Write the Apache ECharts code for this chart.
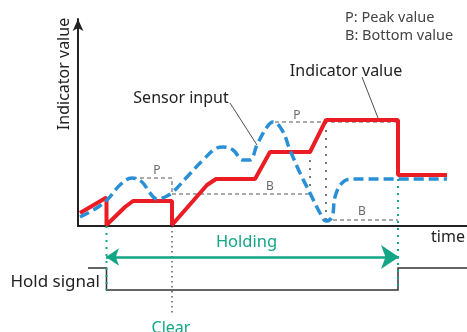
<!DOCTYPE html>
<html>
<head>
<meta charset="utf-8">
<script src="https://cdn.jsdelivr.net/npm/echarts@6/dist/echarts.min.js"></script>
<style>
html, body { margin: 0; padding: 0; background: #fff; }
#chart { width: 467px; height: 332px; }
</style>
</head>
<body>
<div id="chart"></div>
<script>
// x = time, y = indicator value (arbitrary units, axis origin at 0,0)
var sensorInput = [
    [2, 9], [17, 17], [29, 26], [42, 41], [54, 48], [64, 44], [72, 33], [79, 27],
    [87, 29], [95, 34], [109, 49], [125, 66], [139, 78], [145, 79], [155, 76],
    [165, 66], [172, 66], [179, 81], [189, 99], [195, 104], [204, 96], [212, 76],
    [222, 53], [232, 33], [242, 13], [248, 5], [254, 9], [257, 29], [264, 43],
    [274, 47], [369, 47]
];
var indicatorValue = [
    [2, 13], [28.5, 28.5], [28.5, 1], [47, 19], [55, 25], [94, 25], [94, 1],
    [129, 41], [138, 47], [177, 47], [192, 74], [232, 74], [248, 106],
    [320, 106], [320, 51], [369, 51]
];
// peak / bottom guide lines
var peakBottomGuides = [
    [[55, 48], [94, 48], [94, 32]],
    [[94, 32], [232, 32]],
    [[197, 104], [320, 104]],
    [[248, 6], [320, 6]]
];
var holdMoments = [[[232, 74], [232, 32]], [[248, 104], [248, 6]]];
var guideLetters = [
    { name: 'P', value: [79, 55] },
    { name: 'P', value: [219, 110] },
    { name: 'B', value: [192, 39] },
    { name: 'B', value: [284, 14] }
];
// below the time axis
var holdSignal = [[10, -42], [28.5, -42], [28.5, -64], [320, -64], [320, -42], [389, -42]];
var holdEdges = [[[28.5, 0], [28.5, -64]], [[320, 47], [320, -64]]];
var clearMoment = [[94, 0], [94, -89]];
var holdingSpan = [[28, -31], [321, -31]];
var leaders = [[[152, 123], [179, 81]], [[284, 149], [300, 108]]];

var teal = '#12a586';
var font = 'Noto Sans';

function toLines(list) {
    return list.map(function (c) { return { coords: c }; });
}

var chart = echarts.init(document.getElementById('chart'));

option = {
    animation: false,
    grid: { left: 78, right: 0, top: 19, bottom: 106 },
    xAxis: {
        type: 'value',
        min: 0,
        max: 389,
        axisLine: { onZero: false, lineStyle: { color: '#222', width: 2 } },
        axisTick: { show: false },
        axisLabel: { show: false },
        splitLine: { show: false }
    },
    yAxis: {
        type: 'value',
        min: 0,
        max: 207,
        axisLine: {
            show: true,
            symbol: ['none', 'arrow'],
            symbolSize: [8, 12],
            lineStyle: { color: '#222', width: 2 }
        },
        axisTick: { show: false },
        axisLabel: { show: false },
        splitLine: { show: false }
    },
    graphic: [
        { type: 'text', x: 64, y: 74, rotation: Math.PI / 2,
          style: { text: 'Indicator value', font: '16px ' + font, fill: '#222', align: 'center', verticalAlign: 'middle' } },
        { type: 'text', x: 181, y: 98,
          style: { text: 'Sensor input', font: '16px ' + font, fill: '#222', align: 'center', verticalAlign: 'middle' } },
        { type: 'text', x: 346, y: 71,
          style: { text: 'Indicator value', font: '16px ' + font, fill: '#222', align: 'center', verticalAlign: 'middle' } },
        { type: 'text', x: 345, y: 18,
          style: { text: 'P: Peak value', font: '14.5px ' + font, fill: '#444', align: 'left', verticalAlign: 'middle' } },
        { type: 'text', x: 345, y: 36,
          style: { text: 'B: Bottom value', font: '14.5px ' + font, fill: '#444', align: 'left', verticalAlign: 'middle' } },
        { type: 'text', x: 448, y: 237,
          style: { text: 'time', font: '16px ' + font, fill: '#222', align: 'center', verticalAlign: 'middle' } },
        { type: 'text', x: 100, y: 282,
          style: { text: 'Hold signal', font: '17px ' + font, fill: '#222', align: 'right', verticalAlign: 'middle' } },
        { type: 'text', x: 171, y: 320,
          style: { text: 'Clear', font: '16px ' + font, fill: teal, align: 'center', verticalAlign: 'top' } }
    ],
    series: [
        {
            type: 'lines', coordinateSystem: 'cartesian2d', polyline: true, silent: true,
            lineStyle: { color: '#555', width: 1, type: [4, 3], opacity: 1 },
            data: toLines(peakBottomGuides)
        },
        {
            type: 'lines', coordinateSystem: 'cartesian2d', polyline: true, silent: true,
            lineStyle: { color: '#777', width: 2, type: [2, 6], opacity: 1 },
            data: toLines(holdMoments)
        },
        {
            type: 'lines', coordinateSystem: 'cartesian2d', polyline: true, silent: true, clip: false,
            lineStyle: { color: '#333', width: 1.5, opacity: 1 },
            data: [{ coords: holdSignal }]
        },
        {
            type: 'lines', coordinateSystem: 'cartesian2d', polyline: true, silent: true, clip: false,
            lineStyle: { color: teal, width: 2, type: [2, 5], opacity: 1 },
            data: toLines(holdEdges)
        },
        {
            type: 'lines', coordinateSystem: 'cartesian2d', polyline: true, silent: true, clip: false,
            lineStyle: { color: '#333', width: 1.2, type: [1.5, 3.5], opacity: 1 },
            data: [{ coords: clearMoment }]
        },
        {
            type: 'lines', coordinateSystem: 'cartesian2d', silent: true, clip: false,
            symbol: ['arrow', 'arrow'], symbolSize: [13, 18],
            lineStyle: { color: teal, width: 2.5, opacity: 1 },
            label: { show: true, position: 'insideMiddleTop', formatter: '{b}', color: teal,
                     fontSize: 16.5, fontFamily: font, distance: 6, offset: [-6, 0] },
            data: [{ name: 'Holding', coords: holdingSpan }]
        },
        {
            type: 'lines', coordinateSystem: 'cartesian2d', polyline: true, silent: true,
            lineStyle: { color: '#222', width: 0.8, opacity: 1 },
            data: toLines(leaders)
        },
        {
            name: 'Indicator value', type: 'line', symbol: 'none',
            lineStyle: { color: '#ec1c24', width: 4 },
            data: indicatorValue
        },
        {
            name: 'Sensor input', type: 'line', symbol: 'none', smooth: 0.4,
            lineStyle: { color: '#2a90d6', width: 3.5, type: [10, 5] },
            data: sensorInput
        },
        {
            type: 'scatter', symbolSize: 1, silent: true,
            itemStyle: { color: 'transparent' },
            label: { show: true, position: 'inside', formatter: '{b}', color: '#444',
                     fontSize: 12, fontFamily: font },
            data: guideLetters
        }
    ]
};

chart.setOption(option);
</script>
</body>
</html>
